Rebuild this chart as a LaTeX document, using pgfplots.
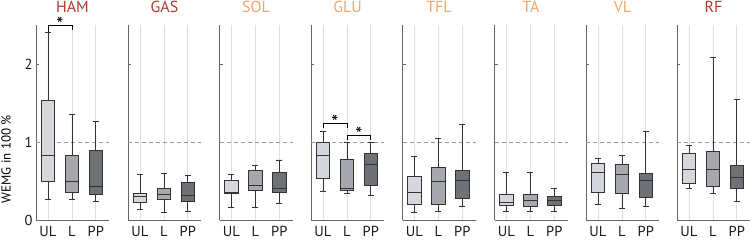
\documentclass[border=0pt]{standalone}
\usepackage{pgfplots}
\pgfplotsset{compat=1.18}
\usepgfplotslibrary{statistics}
\usepackage{fontspec}
\setmainfont{PT Sans}
\definecolor{tred}{HTML}{B0392E}
\definecolor{tora}{HTML}{EFA66A}
\definecolor{cUL}{HTML}{D6D7DC}
\definecolor{cL}{HTML}{A6A8AE}
\definecolor{cPP}{HTML}{6E7176}
\definecolor{edge}{HTML}{333333}
\newcommand{\bp}[7]{\addplot[draw=edge, line width=0.8pt, fill=#1,
  boxplot prepared={draw position=#2, lower whisker=#3, lower quartile=#4,
  median=#5, upper quartile=#6, upper whisker=#7}] coordinates {};}
\newcommand{\refline}{\addplot[black!40, line width=0.7pt, dash pattern=on 4pt off 3pt] coordinates {(0.5,1) (3.55,1)};}
\tikzset{star/.style={anchor=north, inner sep=0pt, font=\fontsize{20}{20}\selectfont}}
\pgfplotsset{panel/.style={
  scale only axis, width=73pt, height=195pt,
  xmin=0.5, xmax=3.55, ymin=0, ymax=2.5,
  anchor=south west,
  axis x line*=bottom, axis y line*=left,
  axis line style={draw=black!60, line width=0.7pt},
  xtick={1,2,3}, xticklabels={UL,L,PP}, ytick={0,1,2},
  xmajorgrids, major x grid style={black!13, line width=0.7pt},
  tick align=inside, major tick length=3pt,
  x tick style={draw=none}, y tick style={draw=black!60, line width=0.7pt},
  /pgf/number format/assume math mode=true,
  tick label style={font=\fontsize{14.5}{14.5}\selectfont, text=black!90},
  xticklabel style={anchor=base, inner sep=0pt, yshift=-17pt},
  clip=false,
  boxplot/draw direction=y,
  boxplot/box extend=0.56, boxplot/whisker extend=0.25,
  every axis title/.style={at={(0.5,1)}, anchor=base, yshift=12.5pt, font=\fontsize{16}{16}\selectfont},
}}
\begin{document}
\begin{tikzpicture}
\useasboundingbox (0,0) rectangle (750pt,240pt);
% HAM
\begin{axis}[panel, at={(36pt,20pt)}, title={\textcolor{tred}{HAM}}]
\refline
\bp{cUL}{1}{0.27}{0.49}{0.83}{1.53}{2.41}
\bp{cL}{2}{0.27}{0.355}{0.49}{0.83}{1.36}
\bp{cPP}{3}{0.24}{0.33}{0.43}{0.89}{1.26}
\addplot[black, line width=0.8pt] coordinates {(1,2.41) (1,2.5) (2,2.5) (2,2.43)};
\node[star] at (axis cs:1.5,2.6) {*};
\node[rotate=90, font=\fontsize{13}{13}\selectfont] at ([xshift=-30pt]axis cs:0.5,0.78) {WEMG in 100 \%};
\end{axis}
% GAS
\begin{axis}[panel, at={(128pt,20pt)}, yticklabels={}, title={\textcolor{tred}{GAS}}]
\refline
\bp{cUL}{1}{0.13}{0.23}{0.30}{0.34}{0.585}
\bp{cL}{2}{0.10}{0.26}{0.33}{0.40}{0.60}
\bp{cPP}{3}{0.115}{0.235}{0.31}{0.48}{0.57}
\end{axis}
% SOL
\begin{axis}[panel, at={(219.5pt,20pt)}, yticklabels={}, title={\textcolor{tora}{SOL}}]
\refline
\bp{cUL}{1}{0.16}{0.34}{0.36}{0.51}{0.59}
\bp{cL}{2}{0.16}{0.375}{0.44}{0.64}{0.70}
\bp{cPP}{3}{0.21}{0.355}{0.40}{0.61}{0.77}
\end{axis}
% GLU
\begin{axis}[panel, at={(311pt,20pt)}, yticklabels={}, title={\textcolor{tora}{GLU}}]
\refline
\bp{cUL}{1}{0.37}{0.53}{0.83}{0.99}{1.13}
\bp{cL}{2}{0.34}{0.385}{0.41}{0.78}{0.99}
\bp{cPP}{3}{0.32}{0.44}{0.71}{0.855}{0.99}
\addplot[black, line width=0.8pt] coordinates {(1,1.18) (1,1.24) (2,1.24) (2,1.18)};
\addplot[black, line width=0.8pt] coordinates {(2,1.03) (2,1.09) (3,1.09) (3,1.03)};
\node[star] at (axis cs:1.5,1.345) {*};
\node[star] at (axis cs:2.5,1.195) {*};
\end{axis}
% TFL
\begin{axis}[panel, at={(402.5pt,20pt)}, yticklabels={}, title={\textcolor{tora}{TFL}}]
\refline
\bp{cUL}{1}{0.10}{0.20}{0.35}{0.555}{0.81}
\bp{cL}{2}{0.115}{0.20}{0.50}{0.675}{1.04}
\bp{cPP}{3}{0.18}{0.28}{0.51}{0.64}{1.22}
\end{axis}
% TA
\begin{axis}[panel, at={(494.5pt,20pt)}, yticklabels={}, title={\textcolor{tora}{TA}}]
\refline
\bp{cUL}{1}{0.115}{0.19}{0.23}{0.33}{0.615}
\bp{cL}{2}{0.115}{0.18}{0.245}{0.33}{0.61}
\bp{cPP}{3}{0.115}{0.19}{0.245}{0.30}{0.40}
\end{axis}
% VL
\begin{axis}[panel, at={(586pt,20pt)}, yticklabels={}, title={\textcolor{tora}{VL}}]
\refline
\bp{cUL}{1}{0.20}{0.35}{0.61}{0.73}{0.79}
\bp{cL}{2}{0.15}{0.34}{0.59}{0.71}{0.83}
\bp{cPP}{3}{0.17}{0.29}{0.51}{0.60}{1.14}
\end{axis}
% RF
\begin{axis}[panel, at={(677pt,20pt)}, yticklabels={}, title={\textcolor{tred}{RF}}]
\refline
\bp{cUL}{1}{0.40}{0.465}{0.65}{0.855}{0.95}
\bp{cL}{2}{0.34}{0.435}{0.65}{0.88}{2.08}
\bp{cPP}{3}{0.24}{0.405}{0.54}{0.705}{1.54}
\end{axis}
\end{tikzpicture}
\end{document}
